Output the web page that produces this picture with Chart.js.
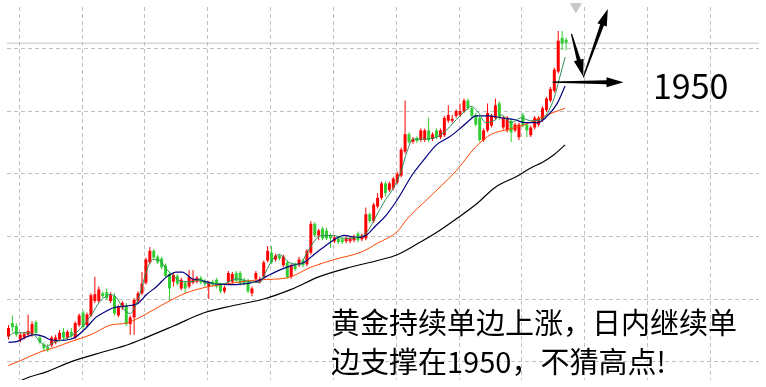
<!DOCTYPE html>
<html lang="zh-CN">
<head>
<meta charset="utf-8">
<title>黄金</title>
<script src="https://cdn.jsdelivr.net/npm/chart.js@4.4.1/dist/chart.umd.min.js"></script>
<style>
  html,body{margin:0;padding:0;background:#fff;}
  #wrap{position:relative;width:766px;height:387px;overflow:hidden;}
  #wrap canvas{position:absolute;left:0;top:0;}
  .note{position:absolute;color:#000;font-family:"Noto Sans CJK SC","Noto Sans",sans-serif;white-space:nowrap;}
  #lvl{left:653px;top:68px;font-size:34px;line-height:34px;}
  #msg{left:331px;top:302px;font-size:29px;line-height:39px;}
</style>
</head>
<body>
<div id="wrap">
  <canvas id="chart"></canvas>
  <div class="note" id="lvl">1950</div>
  <div class="note" id="msg">黄金持续单边上涨，日内继续单<br>边支撑在1950，不猜高点!</div>
</div>
<script>
/* candles, one per bar index 0..142 */
const opens = [
  1686,1700,1697,1683,1685,1688,1688,1701,1685,1678,
  1675,1677,1680,1683,1691,1685,1691,1685,1698,1711,
  1698,1708,1723,1723,1731,1732,1723,1728,1708,1716,
  1718,1699,1706,1723,1731,1742,1763,1775,1769,1767,
  1760,1751,1743,1749,1736,1742,1738,1742,1743,1747,
  1744,1738,1743,1745,1740,1733,1743,1743,1752,1752,
  1745,1744,1731,1746,1743,1748,1765,1773,1766,1770,
  1760,1763,1748,1760,1760,1765,1761,1773,1803,1791,
  1798,1796,1791,1785,1788,1787,1785,1785,1786,1793,
  1787,1788,1813,1806,1821,1830,1845,1838,1840,1846,
  1853,1878,1896,1888,1892,1890,1890,1900,1891,1900,
  1893,1895,1910,1910,1915,1916,1920,1931,1923,1916,
  1913,1890,1900,1905,1913,1928,1903,1900,1910,1900,
  1893,1916,1906,1895,1903,1906,1911,1921,1931,1941,
  1961,1996,1994
];
const highs = [
  1698,1708,1700,1690,1691,1709,1702,1703,1688,1680,
  1678,1687,1688,1693,1695,1693,1695,1702,1710,1713,
  1711,1731,1748,1738,1733,1736,1732,1731,1719,1723,
  1721,1708,1726,1733,1753,1768,1779,1777,1771,1769,
  1762,1753,1752,1751,1747,1744,1755,1755,1749,1749,
  1746,1744,1745,1747,1742,1739,1754,1753,1754,1754,
  1747,1746,1738,1754,1748,1765,1780,1780,1772,1772,
  1771,1765,1762,1763,1769,1767,1777,1806,1805,1798,
  1800,1799,1793,1791,1790,1789,1790,1790,1792,1795,
  1793,1820,1815,1825,1835,1847,1847,1847,1852,1857,
  1882,1931,1898,1893,1894,1902,1902,1913,1898,1902,
  1902,1915,1926,1916,1922,1928,1933,1933,1925,1918,
  1915,1902,1928,1917,1933,1930,1915,1915,1912,1908,
  1908,1918,1908,1905,1915,1915,1925,1935,1945,1965,
  2003,2003,1996
];
const lows = [
  1683,1691,1686,1680,1683,1686,1686,1688,1678,1671,
  1670,1675,1678,1681,1683,1683,1685,1683,1696,1694,
  1696,1706,1721,1721,1726,1724,1721,1708,1706,1714,
  1697,1688,1688,1721,1729,1740,1761,1766,1761,1756,
  1747,1724,1738,1739,1734,1731,1736,1740,1741,1740,
  1738,1725,1738,1736,1731,1731,1741,1741,1742,1739,
  1739,1731,1728,1744,1741,1746,1763,1761,1764,1765,
  1758,1746,1746,1754,1758,1758,1759,1771,1789,1786,
  1786,1786,1778,1783,1782,1782,1783,1783,1784,1784,
  1785,1786,1804,1804,1819,1828,1831,1836,1838,1844,
  1851,1876,1886,1886,1887,1888,1888,1888,1889,1891,
  1891,1893,1908,1908,1913,1914,1918,1921,1913,1904,
  1888,1888,1898,1903,1911,1911,1901,1898,1888,1898,
  1890,1903,1893,1893,1901,1904,1909,1919,1929,1939,
  1959,1983,1983
];
const closes = [
  1695,1696,1688,1688,1689,1692,1699,1690,1680,1674,
  1672,1685,1685,1690,1685,1691,1687,1700,1708,1696,
  1709,1729,1730,1735,1728,1726,1729,1710,1717,1721,
  1699,1706,1724,1731,1741,1766,1775,1768,1763,1758,
  1749,1736,1750,1741,1745,1736,1748,1746,1747,1742,
  1741,1742,1740,1738,1733,1737,1752,1751,1744,1741,
  1741,1733,1736,1752,1745,1763,1775,1763,1770,1767,
  1769,1748,1760,1756,1766,1760,1775,1803,1791,1796,
  1788,1788,1788,1789,1784,1784,1788,1788,1790,1786,
  1791,1813,1806,1823,1830,1845,1835,1845,1850,1855,
  1880,1896,1888,1891,1889,1900,1900,1890,1896,1893,
  1900,1913,1916,1912,1920,1920,1931,1923,1915,1906,
  1890,1900,1918,1915,1926,1913,1913,1913,1898,1906,
  1906,1905,1900,1903,1913,1913,1923,1933,1943,1963,
  1993,1990,1991
];

/* moving averages: bar index -> price */
const maFastIdx = [0,1.5,4.75,6.5,8,9.75,11.5,14,16.5,18,19.75,21.5,23,24.25,26,27.75,29.25,31,31.75,33.5,35.25,36.75,38.5,40.25,41.75,44.25,46.75,48.5,50.5,54.75,58,61.5,64,65.5,67.25,69,71.5,74.25,76,78.5,80.25,82.75,85.25,88.5,91,93.5,96,97.25,99.75,101.5,103,105.5,109,111.5,114,116.5,117.75,119.75,121.5,124,125.5,128,130.5,133,135.5,137.25,139,140.25,141.75];
const maFastVal = [1686,1690,1690,1688,1681,1676,1680,1683,1688,1693,1701,1711,1721,1726,1730,1725,1715,1710,1713,1731,1755,1766,1765,1756,1750,1743,1743,1745,1741,1741,1746,1743,1742,1753,1766,1771,1763,1761,1773,1788,1791,1791,1788,1789,1793,1810,1828,1835,1855,1878,1891,1891,1893,1900,1911,1921,1925,1918,1908,1911,1916,1908,1913,1910,1911,1918,1934,1953,1976];

const maMidIdx = [0,2.25,4.75,6.75,9,10.5,13,15.5,17.25,19.75,22.25,24.25,26.75,30.25,32.75,35.25,37.75,40.25,42.75,44.25,46.75,48.5,52.25,58,63,65.5,69,72.25,75.25,77.75,81,83.5,85.5,88.5,91,93.5,96,99,103,105.5,109,112.25,114.75,117.25,119,122.25,125.5,129,131.5,134.75,137.25,139.75,141.75];
const maMidVal = [1680,1681,1686,1688,1686,1683,1682,1683,1686,1695,1706,1711,1716,1718,1720,1730,1738,1748,1753,1753,1746,1745,1741,1740,1743,1748,1755,1760,1763,1771,1781,1788,1791,1789,1791,1801,1811,1828,1855,1868,1885,1893,1901,1910,1915,1915,1913,1911,1908,1908,1915,1928,1946];

const maSlowIdx = [0,3,8,12,16,21,26,30,33,37,41,45,50,56,64,71,77,83,90,94,99,101.5,106.5,114,119,123,127.25,131.5,136.5,141.75];
const maSlowVal = [1656,1661,1670,1675,1681,1688,1698,1700,1705,1714,1723,1731,1737,1741,1745,1747,1758,1766,1774,1783,1795,1808,1828,1858,1883,1896,1901,1906,1915,1923];

const maLongIdx = [2,3.5,10,16,24,30,35,42,50,57,65,72,79,87,94,99,104,109,114,119,124,129.75,133,136,139,141.75];
const maLongVal = [1637,1641,1650,1660,1670,1677,1685,1697,1711,1718,1725,1735,1748,1758,1765,1771,1782,1794,1808,1823,1841,1853,1861,1867,1875,1885];

/* view + grid */
const X_MIN = -0.375, X_MAX = 191.125;
const Y_MIN = 1641, Y_MAX = 2028;
const gridX = [2.75,18.75,34.75,50.75,66.75,82.75,98.75,114.75,130.75,146.75,162.75,178.75];
const gridY = [1985,1920,1855,1790,1725,1660];
const lastBid = 1990.5;
const shiftMark = {x:144.5, y:2028.5};

/* drawn arrows [x0,y0,x1,y1] in bar index / price */
const supportLevel = 1950;
const arrows = [
  [138.625, supportLevel, 156.625, supportLevel],
  [143.375, 2000, 146.375, 1956],
  [146.375, 1955, 152.625, 2026]
];

const UP = '#ff0000', DOWN = '#32cd32';
const candleColor = closes.map((c,i) => c >= opens[i] ? UP : DOWN);

const pts = (xs, ys) => xs.map((x,k) => ({x, y: ys[k]}));
const mkLine = (xs, ys, color, width) => ({
  type:'line', data: pts(xs, ys), borderColor: color, borderWidth: width,
  pointRadius: 0, cubicInterpolationMode:'monotone', fill:false
});

function drawArrow(ctx, x0, y0, x1, y1){
  const dx = x1 - x0, dy = y1 - y0, len = Math.hypot(dx, dy);
  const ux = dx/len, uy = dy/len, nx = -uy, ny = ux;
  const head = 17, hw = 5, neck = 2, tail = 0.6;
  const bx = x1 - ux*head, by = y1 - uy*head;
  ctx.beginPath();
  ctx.moveTo(x0 + nx*tail, y0 + ny*tail);
  ctx.lineTo(bx + nx*neck, by + ny*neck);
  ctx.lineTo(bx + nx*hw, by + ny*hw);
  ctx.lineTo(x1, y1);
  ctx.lineTo(bx - nx*hw, by - ny*hw);
  ctx.lineTo(bx - nx*neck, by - ny*neck);
  ctx.lineTo(x0 - nx*tail, y0 - ny*tail);
  ctx.closePath();
  ctx.fill();
}

const arrowPlugin = {
  id:'arrows',
  afterDatasetsDraw(chart){
    const {ctx, scales:{x, y}} = chart;
    ctx.save();
    ctx.fillStyle = '#000';
    arrows.forEach(a => drawArrow(ctx,
      x.getPixelForValue(a[0]), y.getPixelForValue(a[1]),
      x.getPixelForValue(a[2]), y.getPixelForValue(a[3])));
    ctx.restore();
  }
};

new Chart(document.getElementById('chart'), {
  type:'bar',
  data:{
    datasets:[
      mkLine(maFastIdx, maFastVal, '#2e8b57', 1),
      mkLine(maMidIdx, maMidVal, '#000080', 1.2),
      mkLine(maSlowIdx, maSlowVal, '#ff4500', 1),
      mkLine(maLongIdx, maLongVal, '#000000', 1.2),
      {
        type:'bar', grouped:false,
        data: closes.map((c,i) => ({x:i, y:[opens[i], c]})),
        backgroundColor: candleColor, borderWidth:0,
        barThickness:3, minBarLength:1, inflateAmount:0
      },
      {
        type:'bar', grouped:false,
        data: highs.map((h,i) => ({x:i, y:[lows[i], h]})),
        backgroundColor: candleColor, borderWidth:0,
        barThickness:1, inflateAmount:0
      },
      {
        type:'line', data:[{x:X_MIN, y:lastBid},{x:X_MAX, y:lastBid}],
        borderColor:'#c0c0c0', borderWidth:1, pointRadius:0
      },
      {
        type:'line', data:[shiftMark], showLine:false, clip:false,
        pointStyle:'triangle', rotation:180, pointRadius:7,
        pointBackgroundColor:'#c8c8c8', pointBorderWidth:0
      }
    ]
  },
  options:{
    responsive:true,
    maintainAspectRatio:false,
    animation:false,
    events:[],
    layout:{ padding:0 },
    plugins:{ legend:{ display:false }, tooltip:{ enabled:false } },
    scales:{
      x:{
        type:'linear', min:X_MIN, max:X_MAX, offset:false,
        afterBuildTicks: s => { s.ticks = gridX.map(v => ({value:v})); },
        ticks:{ display:false },
        grid:{ color:'#c0c0c0', lineWidth:1, drawTicks:false, offset:false },
        border:{ display:false, dash:[4,3] }
      },
      y:{
        type:'linear', min:Y_MIN, max:Y_MAX,
        afterBuildTicks: s => { s.ticks = gridY.map(v => ({value:v})); },
        ticks:{ display:false },
        grid:{ color:'#c0c0c0', lineWidth:1, drawTicks:false },
        border:{ display:false, dash:[4,3] }
      }
    }
  },
  plugins:[arrowPlugin]
});
</script>
</body>
</html>
